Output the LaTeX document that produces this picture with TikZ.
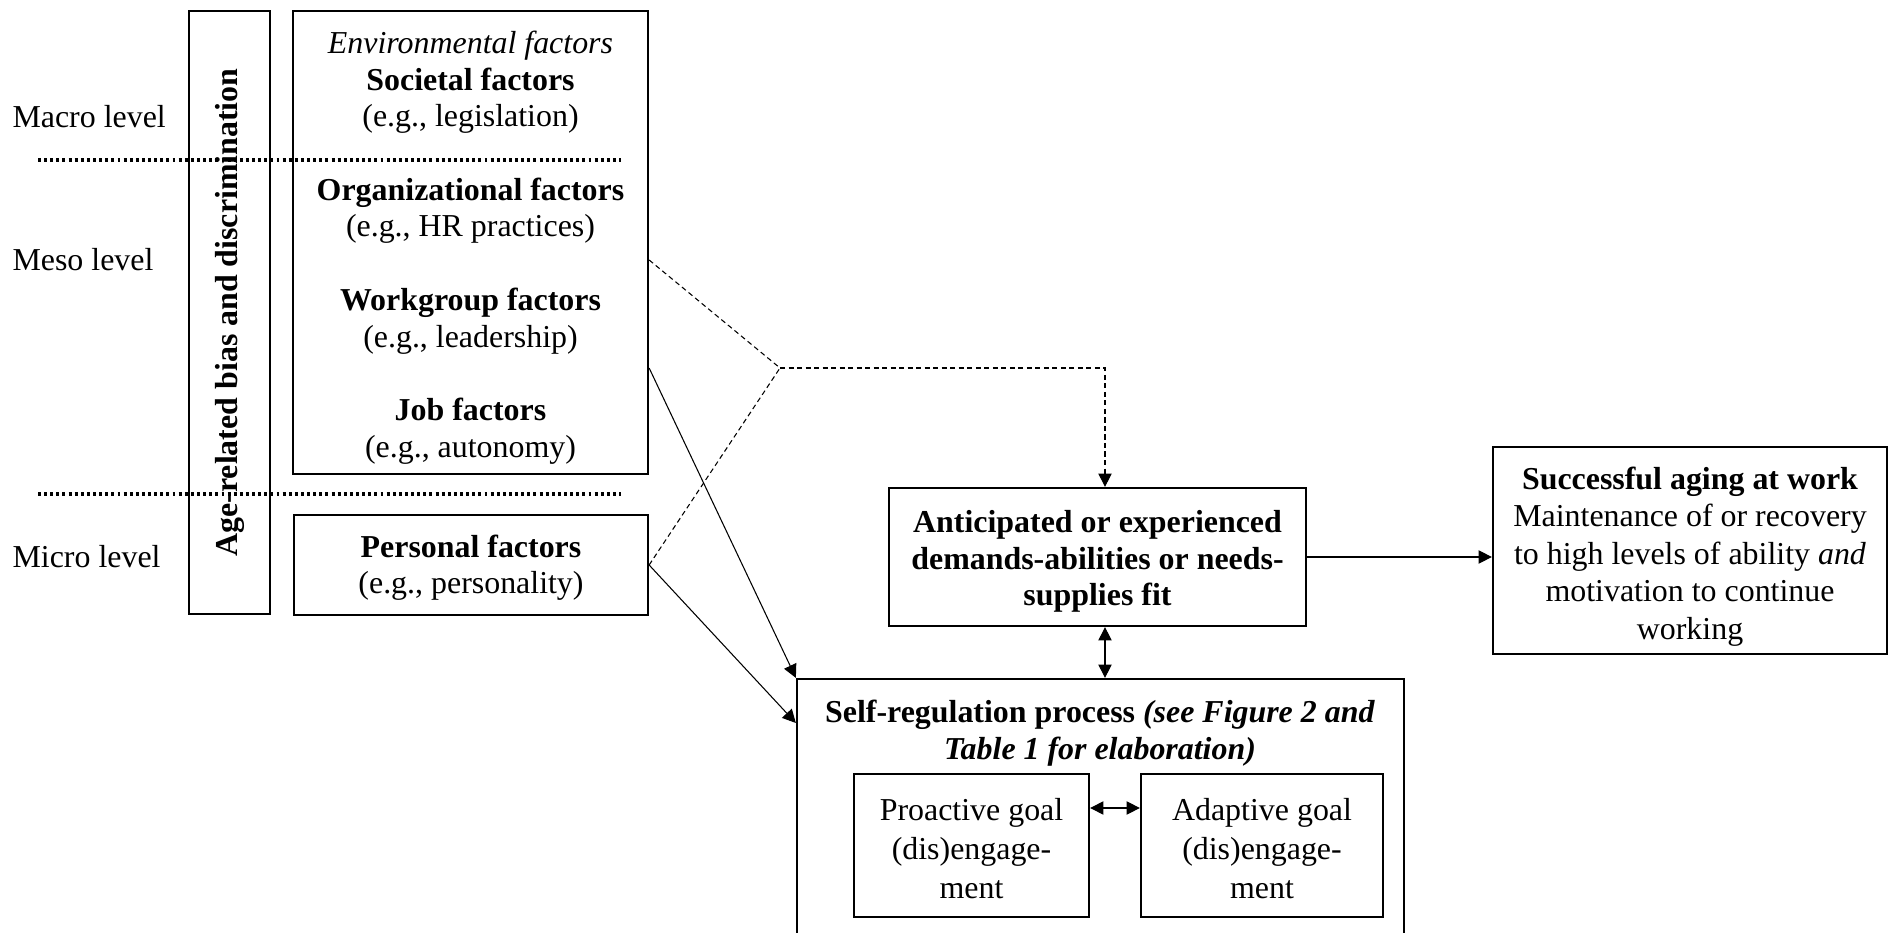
\documentclass[tikz,border=0pt]{standalone}
\usepackage{fontspec}
\setmainfont{Liberation Serif}
\usetikzlibrary{arrows.meta}
\newcommand\upgap[1]{\rule{0pt}{#1}}
\begin{document}
\begin{tikzpicture}[x=0.376pt,y=-0.376pt,
  font=\fontsize{12}{13.8}\selectfont,
  box/.style={draw,line width=0.85pt,inner sep=0pt,align=center},
  lvl/.style={anchor=west,inner sep=0pt},
  conn/.style={line width=0.4pt},
  dashconn/.style={line width=0.4pt,dash pattern=on 1.9pt off 1.3pt},
  dotline/.style={line width=1.2pt,dash pattern=on 1.1pt off 1.2pt},
  tip/.style={-{Triangle[length=5pt,width=5pt]}},
  dtip/.style={{Triangle[length=5pt,width=5pt]}-{Triangle[length=5pt,width=5pt]}}]
\useasboundingbox (0,0) rectangle (1891,933);
\clip (0,0) rectangle (1891,933);

% level labels
\node[lvl] (macro) at (12,117) {Macro level};
\node[lvl] (meso) at (12,260) {Meso level};
\node[lvl] (micro) at (12,557) {Micro level};

% age box
\node[box,rotate=90,minimum width=603*0.376pt,minimum height=81*0.376pt,font=\fontsize{12}{13.8}\selectfont\bfseries] (age) at (229.5,312.5) {Age-related bias and discrimination};

% environmental box
\node[box,minimum width=355*0.376pt,minimum height=463*0.376pt] (env) at (470.5,242.5) {\upgap{12.2pt}\textit{Environmental factors}\\
\textbf{Societal factors}\\
(e.g., legislation)\\[13.8pt]
\textbf{Organizational factors}\\
(e.g., HR practices)\\[13.8pt]
\textbf{Workgroup factors}\\
(e.g., leadership)\\[13.8pt]
\textbf{Job factors}\\
(e.g., autonomy)};

% personal box
\node[box,minimum width=354*0.376pt,minimum height=100*0.376pt] (pers) at (471,565) {\upgap{10.5pt}\textbf{Personal factors}\\ (e.g., personality)};

% fit box
\node[box,minimum width=417*0.376pt,minimum height=138*0.376pt,font=\fontsize{12}{13.8}\selectfont\bfseries] (fitbox) at (1097.5,557) {\upgap{11.8pt}Anticipated or experienced\\ demands-abilities or needs-\\ supplies fit};

% success box
\node[box,minimum width=394*0.376pt,minimum height=207*0.376pt,font=\fontsize{12}{14.1}\selectfont] (succ) at (1690,550.5) {\upgap{13pt}\textbf{Successful aging at work}\\ Maintenance of or recovery\\ to high levels of ability \textit{and}\\ motivation to continue\\ working};

% self-regulation box
\node[box,minimum width=607*0.376pt,minimum height=281*0.376pt] (selfreg) at (1100.5,819.5) {};
\node[inner sep=0pt,align=center,font=\fontsize{12}{13.8}\selectfont\bfseries] (srtitle) at (1100,733.5) {Self-regulation process \textit{(see Figure 2 and}\\ \textit{Table 1 for elaboration)}};

\node[box,minimum width=235*0.376pt,minimum height=143*0.376pt,font=\fontsize{12}{14.7}\selectfont] (pro) at (971.5,845.5) {\upgap{10.5pt}Proactive goal\\ (dis)engage-\\ ment};
\node[box,minimum width=242*0.376pt,minimum height=143*0.376pt,font=\fontsize{12}{14.7}\selectfont] (ada) at (1262,845.5) {\upgap{10.5pt}Adaptive goal\\ (dis)engage-\\ ment};

% dotted level separators
\coordinate (d1a) at (38,160); \coordinate (d1b) at (621,160);
\coordinate (d2a) at (38,494); \coordinate (d2b) at (621,494);
\draw[dotline] (d1a) -- (d1b);
\draw[dotline] (d2a) -- (d2b);

% dashed connectors
\coordinate (J) at (780,368);
\coordinate (K) at (1105,368);
\draw[dashconn] (env.east |- 0,260) -- (J);
\draw[dashconn] (pers.east) -- (J);
\draw[dashconn,tip] (J) -- (K) -- (fitbox.north -| K);

% solid connectors
\draw[conn,tip] (env.east |- 0,368) -- (selfreg.north west);
\draw[conn,tip] (pers.east) -- (selfreg.west |- 0,723);
\draw[conn,dtip] (fitbox.south -| K) -- (selfreg.north -| K);
\draw[conn,tip] (fitbox.east) -- (succ.west |- fitbox.east);
\draw[conn,dtip] (pro.east |- 0,808) -- (ada.west |- 0,808);
\end{tikzpicture}
\end{document}
